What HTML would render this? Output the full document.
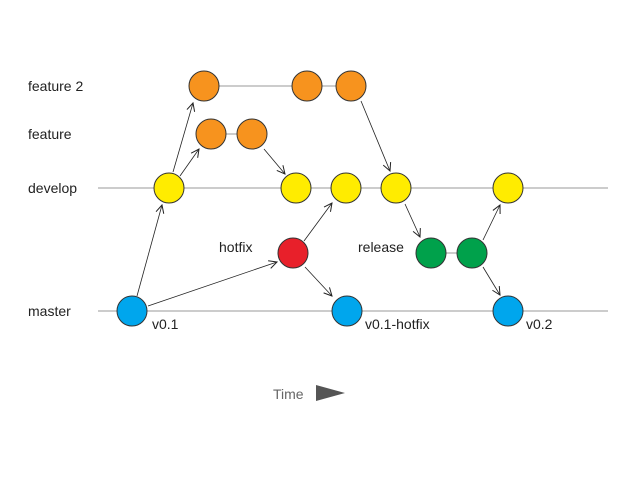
<!DOCTYPE html>
<html><head><meta charset="utf-8"><style>
html,body{margin:0;padding:0;background:#fff;}
text{font-family:"Liberation Sans",sans-serif;font-size:14px;fill:#222;}
</style></head><body>
<svg width="638" height="479" viewBox="0 0 638 479" xmlns="http://www.w3.org/2000/svg">
<defs><marker id="a" markerWidth="10" markerHeight="10" refX="9" refY="5" orient="auto" markerUnits="userSpaceOnUse"><path d="M1,1 L9,5 L1,9" fill="none" stroke="#222" stroke-width="1"/></marker></defs>
<g stroke="#999" stroke-width="1">
<line x1="98" y1="188" x2="608" y2="188"/>
<line x1="98" y1="311" x2="608" y2="311"/>
<line x1="204" y1="86" x2="351" y2="86"/>
<line x1="211" y1="134" x2="252" y2="134"/>
<line x1="431" y1="253" x2="472" y2="253"/>
</g>
<g stroke="#222" stroke-width="0.8" fill="none" marker-end="url(#a)">
<line x1="137" y1="296" x2="162" y2="205"/>
<line x1="173" y1="172" x2="193" y2="103"/>
<line x1="180" y1="176" x2="199" y2="149"/>
<line x1="148" y1="306" x2="277" y2="262"/>
<line x1="264" y1="149" x2="285" y2="174"/>
<line x1="304" y1="241" x2="332" y2="203"/>
<line x1="305" y1="267" x2="332" y2="296"/>
<line x1="361" y1="101" x2="390" y2="171"/>
<line x1="405" y1="204" x2="420" y2="237"/>
<line x1="483" y1="240" x2="500" y2="205"/>
<line x1="483" y1="267" x2="500" y2="295"/>
</g>
<g stroke="#333" stroke-width="1">
<circle cx="204" cy="86" r="15" fill="#f7931e"/>
<circle cx="307" cy="86" r="15" fill="#f7931e"/>
<circle cx="351" cy="86" r="15" fill="#f7931e"/>
<circle cx="211" cy="134" r="15" fill="#f7931e"/>
<circle cx="252" cy="134" r="15" fill="#f7931e"/>
<circle cx="169" cy="188" r="15" fill="#ffec00"/>
<circle cx="296" cy="188" r="15" fill="#ffec00"/>
<circle cx="346" cy="188" r="15" fill="#ffec00"/>
<circle cx="396" cy="188" r="15" fill="#ffec00"/>
<circle cx="508" cy="188" r="15" fill="#ffec00"/>
<circle cx="293" cy="253" r="15" fill="#e8202a"/>
<circle cx="431" cy="253" r="15" fill="#00a14b"/>
<circle cx="472" cy="253" r="15" fill="#00a14b"/>
<circle cx="132" cy="311" r="15" fill="#00a6ed"/>
<circle cx="347" cy="311" r="15" fill="#00a6ed"/>
<circle cx="508" cy="311" r="15" fill="#00a6ed"/>
</g>
<text x="28" y="91">feature 2</text>
<text x="28" y="139">feature</text>
<text x="28" y="193">develop</text>
<text x="219" y="252">hotfix</text>
<text x="358" y="252">release</text>
<text x="28" y="316">master</text>
<text x="152" y="329">v0.1</text>
<text x="365" y="329">v0.1-hotfix</text>
<text x="526" y="329">v0.2</text>
<text x="273" y="399" style="fill:#666">Time</text>
<polygon points="316,385 345,393 316,401" fill="#555"/>
</svg>
</body></html>
